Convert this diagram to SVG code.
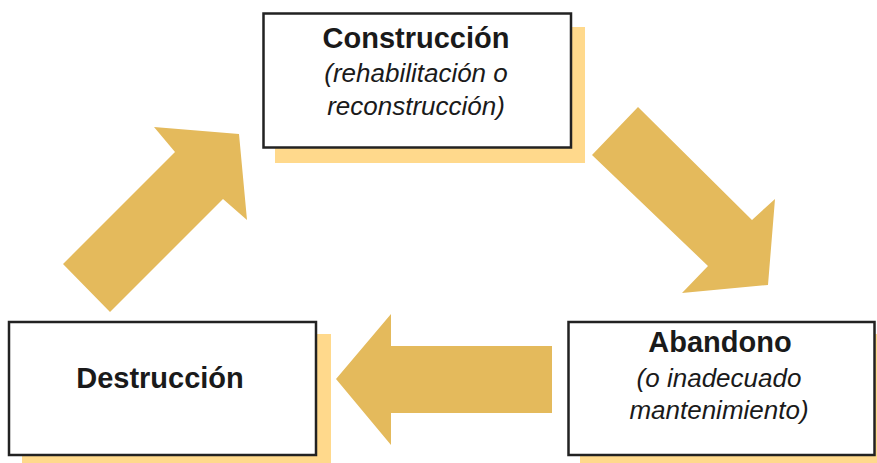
<svg xmlns="http://www.w3.org/2000/svg" width="877" height="463" viewBox="0 0 877 463">
<style>
.shadow{fill:#FFD98C}
.box{fill:#fff;stroke:#222;stroke-width:2.5}
.arrow{fill:#E4BA5C}
.t{font-family:"Liberation Sans",Arial,sans-serif;fill:#1a1a1a;text-anchor:middle}
.b{font-weight:bold;font-size:29px}
.i{font-style:italic;font-size:26px}
</style>
<rect width="877" height="463" fill="#fff"/>
<g id="connectors">
<polygon class="arrow" points="63,264 175,152 154,127 239,134 247,220 223,199 110,312"/>
<polygon class="arrow" points="638,107 752,220 775,199 768,285 682,293 708,266 592,155"/>
<polygon class="arrow" points="336,379 391,314 391,346 552,346 552,413 391,413 391,445"/>
</g>
<g id="construccion">
<rect class="shadow" x="275" y="27" width="310" height="136"/>
<rect class="box" x="263.5" y="13.5" width="307.5" height="134"/>
<text class="t b" x="416" y="48">Construcción</text>
<text class="t i" x="416" y="82">(rehabilitación o</text>
<text class="t i" x="416" y="114.5">reconstrucción)</text>
</g>
<g id="destruccion">
<rect class="shadow" x="22" y="334" width="309" height="140"/>
<rect class="box" x="9" y="322" width="307" height="133"/>
<text class="t b" x="160" y="388">Destrucción</text>
</g>
<g id="abandono">
<rect class="shadow" x="580" y="334" width="310" height="140"/>
<rect class="box" x="568.5" y="322" width="306" height="133"/>
<text class="t b" x="720" y="352">Abandono</text>
<text class="t i" x="719" y="387">(o inadecuado</text>
<text class="t i" x="719" y="419">mantenimiento)</text>
</g>
</svg>
